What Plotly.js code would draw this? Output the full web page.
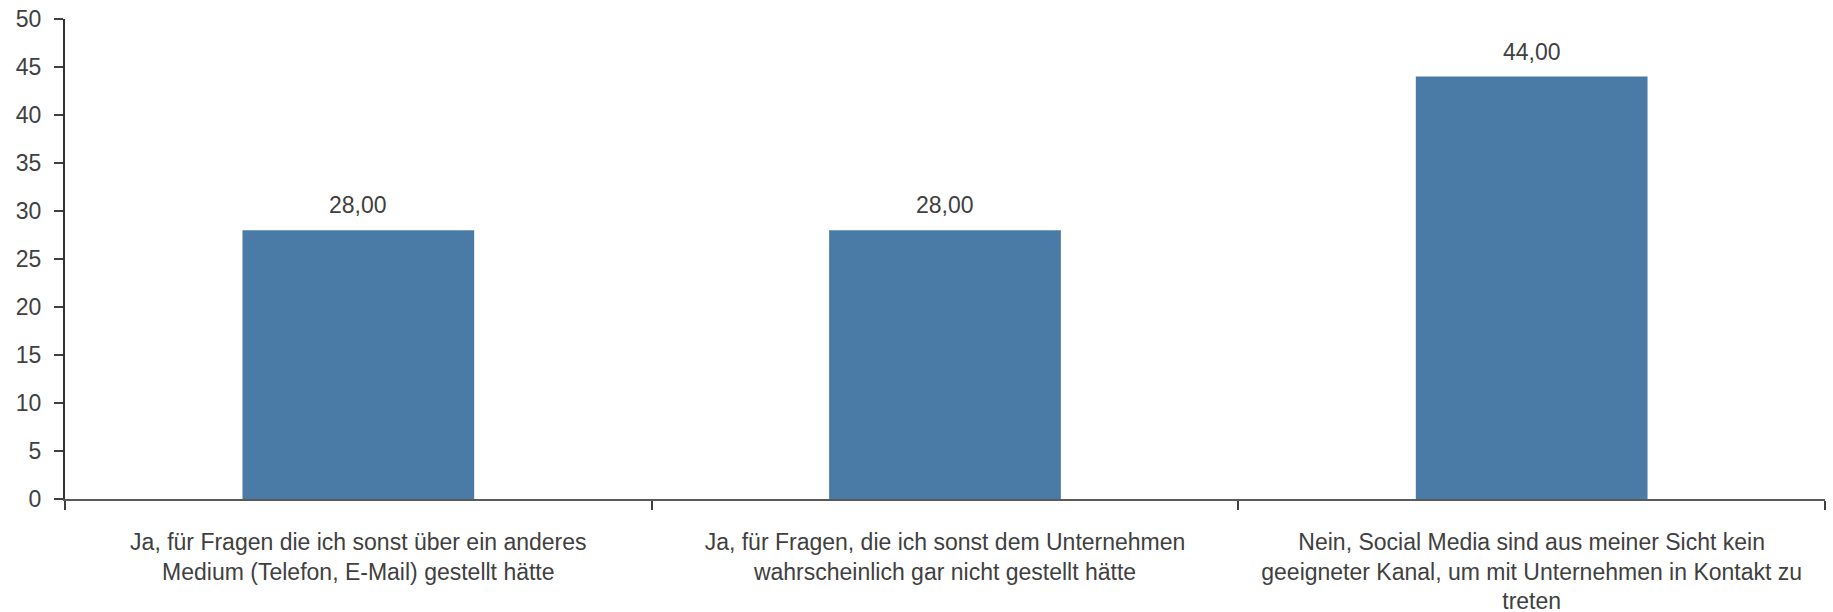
<!DOCTYPE html>
<html>
<head>
<meta charset="utf-8">
<script src="https://cdn.plot.ly/plotly-3.0.1.min.js"></script>
<style>
html,body{margin:0;padding:0;background:#fff;}
#chart{width:1833px;height:612px;}
</style>
</head>
<body>
<div id="chart"></div>
<script>
const categories = [
  "Ja, für Fragen die ich sonst über ein anderes<br>Medium (Telefon, E-Mail) gestellt hätte",
  "Ja, für Fragen, die ich sonst dem Unternehmen<br>wahrscheinlich gar nicht gestellt hätte",
  "Nein, Social Media sind aus meiner Sicht kein<br>geeigneter Kanal, um mit Unternehmen in Kontakt zu<br>treten"
];
const values = [28, 28, 44];
const yTickVals = [0, 5, 10, 15, 20, 25, 30, 35, 40, 45, 50];

const fontFamily = "Liberation Sans, Arial, sans-serif";
const textColor = "#404040";

const trace = {
  type: "bar",
  x: categories,
  y: values,
  marker: {color: "#4A7BA6"},
  hoverinfo: "none"
};

const annotations = values.map((v, i) => ({
  x: categories[i],
  y: v,
  xref: "x",
  yref: "y",
  text: v.toFixed(2).replace(".", ","),
  showarrow: false,
  yanchor: "bottom",
  yshift: 10,
  font: {family: fontFamily, size: 23, color: textColor}
}));

const layout = {
  width: 1833,
  height: 612,
  margin: {l: 65, r: 8, t: 19, b: 113},
  paper_bgcolor: "#ffffff",
  plot_bgcolor: "#ffffff",
  showlegend: false,
  bargap: 0.605,
  font: {family: fontFamily, size: 23, color: textColor},
  xaxis: {
    type: "category",
    tickson: "boundaries",
    ticks: "outside",
    ticklen: 9,
    tickwidth: 2,
    tickcolor: "#404040",
    showline: true,
    linecolor: "#5a5a5a",
    linewidth: 2,
    showgrid: false,
    zeroline: false,
    tickfont: {family: fontFamily, size: 23, color: textColor},
    ticklabelstandoff: 21
  },
  yaxis: {
    range: [0, 50],
    tickvals: yTickVals,
    ticktext: yTickVals.map(String),
    ticks: "outside",
    ticklen: 9,
    tickwidth: 2,
    tickcolor: "#404040",
    showline: true,
    linecolor: "#333333",
    linewidth: 2,
    showgrid: false,
    zeroline: false,
    tickfont: {family: fontFamily, size: 23, color: textColor},
    ticklabelstandoff: 8
  },
  annotations: annotations
};

Plotly.newPlot("chart", [trace], layout, {staticPlot: true, displayModeBar: false});
</script>
</body>
</html>
